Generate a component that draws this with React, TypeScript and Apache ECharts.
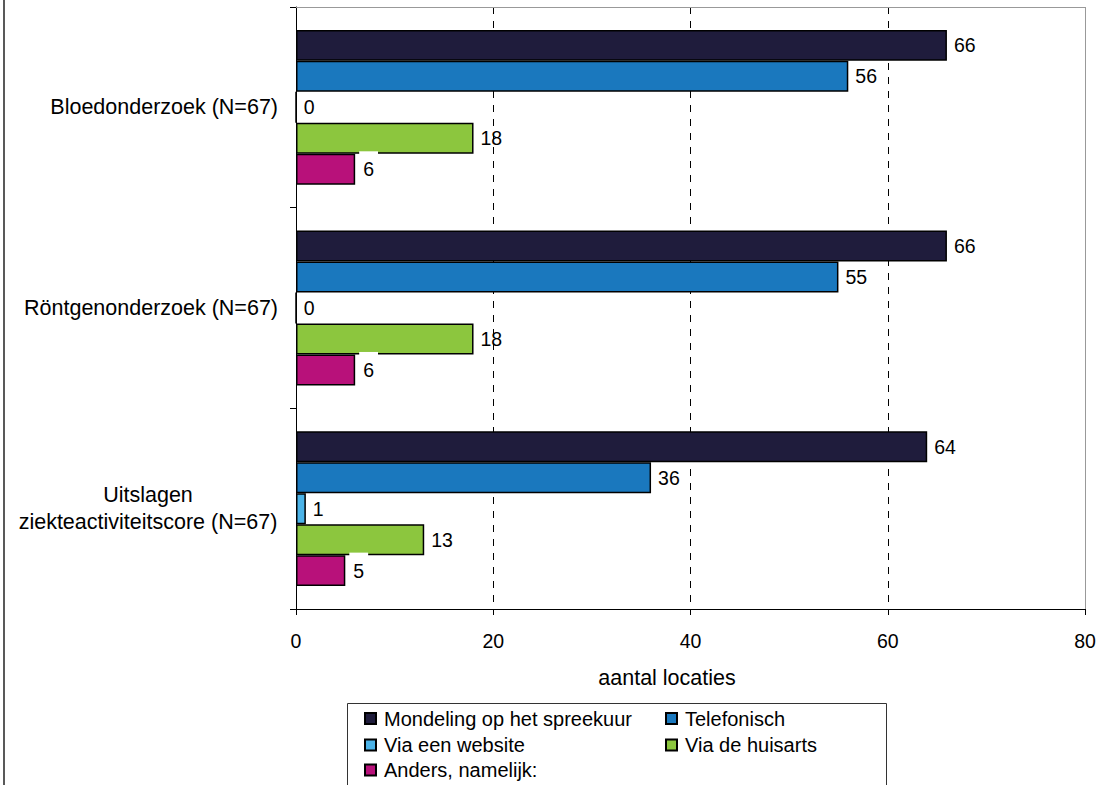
import React, { useEffect, useRef } from "react";
import * as echarts from "echarts";

const categories = [
  "Bloedonderzoek (N=67)",
  "Röntgenonderzoek (N=67)",
  "Uitslagen\nziekteactiviteitscore (N=67)",
];
const seriesNames = [
  "Mondeling op het spreekuur",
  "Telefonisch",
  "Via een website",
  "Via de huisarts",
  "Anders, namelijk:",
];
const mondeling = [66, 66, 64];
const telefonisch = [56, 55, 36];
const website = [0, 0, 1];
const huisarts = [18, 18, 13];
const anders = [6, 6, 5];
const xTicks = [0, 20, 40, 60, 80];
const axisName = "aantal locaties";

const seriesValues = [mondeling, telefonisch, website, huisarts, anders];
const colors = ["#1f1c3c", "#1a78be", "#4bb3e8", "#8cc63e", "#b8117a"];

const FONT = "'Liberation Sans', Arial, Helvetica, sans-serif";

export default function App() {
  const ref = useRef<HTMLDivElement>(null);
  useEffect(() => {
    if (!ref.current) return;
    const chart = echarts.init(ref.current, undefined, { renderer: "svg" });

    const legendPos = [
      { left: 364, top: 708.5 },
      { left: 665, top: 708.5 },
      { left: 364, top: 735 },
      { left: 665, top: 735 },
      { left: 364, top: 760 },
    ];

    const option: any = {
      animation: false,
      backgroundColor: "#fff",
      textStyle: { fontFamily: FONT, color: "#000" },
      grid: { left: 296, right: 33, top: 7, bottom: 176, containLabel: false },
      xAxis: {
        type: "value",
        min: xTicks[0],
        max: xTicks[xTicks.length - 1],
        interval: 20,
        name: axisName,
        nameLocation: "middle",
        nameGap: 58,
        nameTextStyle: {
          fontFamily: FONT,
          fontSize: 21.5,
          color: "#000",
          padding: [0, 47, 0, 0],
        },
        axisLine: { show: true, lineStyle: { color: "#000", width: 1 } },
        axisTick: { show: true, length: 6, lineStyle: { color: "#000" } },
        axisLabel: { fontFamily: FONT, fontSize: 19.5, color: "#000", margin: 22 },
        splitLine: {
          show: true,
          lineStyle: { color: "#000", width: 1, type: [7, 7] },
        },
      },
      yAxis: {
        type: "category",
        data: categories,
        inverse: true,
        axisLine: { show: true, lineStyle: { color: "#000", width: 1 } },
        axisTick: { show: true, length: 6, lineStyle: { color: "#000" } },
        axisLabel: {
          fontFamily: FONT,
          fontSize: 21.5,
          color: "#000",
          margin: 18,
          lineHeight: 27,
          formatter: (v: string) =>
            v.indexOf("\n") >= 0
              ? v
                  .split("\n")
                  .map((l) => "{c|" + l + "}")
                  .join("\n")
              : v,
          rich: {
            c: {
              width: 260,
              align: "center",
              fontFamily: FONT,
              fontSize: 21.5,
              lineHeight: 27,
              color: "#000",
            },
          },
        },
        splitLine: { show: false },
      },
      legend: seriesNames.map((n, i) => ({
        data: [n],
        left: legendPos[i].left,
        top: legendPos[i].top,
        orient: "horizontal",
        padding: 0,
        itemWidth: 11,
        itemHeight: 11,
        icon: "rect",
        selectedMode: false,
        textStyle: {
          fontFamily: FONT,
          fontSize: 20,
          color: "#000",
          padding: [0, 0, 0, 3],
        },
      })),
      series: seriesNames.map((n, i) => ({
        name: n,
        type: "bar",
        data: seriesValues[i],
        barGap: "0%",
        barCategoryGap: "22.8%",
        itemStyle: { color: colors[i], borderColor: "#000", borderWidth: 1.5 },
        label: {
          show: true,
          position: "right",
          distance: i === 4 ? 4 : 7,
          fontFamily: FONT,
          fontSize: 19.5,
          color: "#000",
          ...(i === 4
            ? { backgroundColor: "#fff", padding: [8, 4, 8, 4] }
            : {}),
        },
      })),
      graphic: [
        {
          type: "line",
          z: 100,
          shape: { x1: 296, y1: 7.5, x2: 1085.5, y2: 7.5 },
          style: { stroke: "#999", lineWidth: 1 },
        },
        {
          type: "line",
          z: 100,
          shape: { x1: 1085.5, y1: 7, x2: 1085.5, y2: 609 },
          style: { stroke: "#999", lineWidth: 1 },
        },
        {
          type: "line",
          z: 100,
          shape: { x1: 4, y1: 0, x2: 4, y2: 785 },
          style: { stroke: "#222", lineWidth: 1.5 },
        },
        {
          type: "rect",
          z: 0,
          shape: { x: 347.5, y: 703.5, width: 539, height: 100 },
          style: { fill: "#fff", stroke: "#333", lineWidth: 1 },
        },
      ],
    };
    chart.setOption(option);
    return () => chart.dispose();
  }, []);
  return (
    <div
      ref={ref}
      style={{ position: "absolute", left: 0, top: 0, width: 1118, height: 785 }}
    />
  );
}
